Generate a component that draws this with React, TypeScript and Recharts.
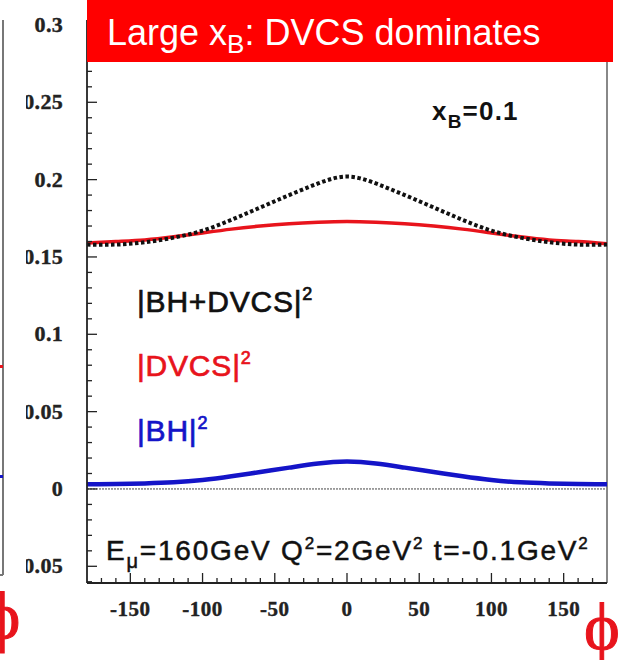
import { Line, LineChart, ReferenceLine, XAxis, YAxis } from "recharts";

// azimuthal angle phi (deg) and the three cross-section curves
const phiValues = [-180, -160, -140, -120, -100, -80, -60, -40, -20, 0, 20, 40, 60, 80, 100, 120, 140, 160, 180];
const bhDvcsValues = [0.158, 0.158, 0.1595, 0.1625, 0.167, 0.174, 0.182, 0.19, 0.1975, 0.202, 0.1975, 0.19, 0.182, 0.174, 0.167, 0.1625, 0.1595, 0.158, 0.158];
const dvcsValues = [0.159, 0.16, 0.161, 0.163, 0.1655, 0.168, 0.17, 0.1715, 0.1725, 0.173, 0.1725, 0.1715, 0.17, 0.168, 0.1655, 0.163, 0.161, 0.16, 0.1585];
const bhValues = [0.003, 0.0032, 0.0036, 0.0043, 0.0058, 0.0082, 0.011, 0.0138, 0.0165, 0.0177, 0.0165, 0.0138, 0.011, 0.0082, 0.0058, 0.0043, 0.0036, 0.0032, 0.003];

const xMajorTicks = [-150, -100, -50, 0, 50, 100, 150];
const xMajorLabels = ["-150", "-100", "-50", "0", "50", "100", "150"];
const yMajorTicks = [-0.05, 0, 0.05, 0.1, 0.15, 0.2, 0.25, 0.3];
const yMajorLabels = ["-0.05", "0", "0.05", "0.1", "0.15", "0.2", "0.25", "0.3"];

// minor ticks every 10 deg / 0.01
const xTicks = Array.from({ length: 35 }, (_, i) => -170 + i * 10);
const yTicks = Array.from({ length: 37 }, (_, i) => (i - 6) / 100);

const data = phiValues.map((phi, i) => ({
  phi,
  total: bhDvcsValues[i],
  dvcs: dvcsValues[i],
  bh: bhValues[i],
}));

const RED = "#e8141c";
const BLUE = "#1414c8";
const SERIF = "'Liberation Serif', 'Times New Roman', serif";
const SANS = "'Liberation Sans', Arial, sans-serif";

function XTick(props: any) {
  const { x, y, payload } = props;
  const idx = xMajorTicks.indexOf(payload.value);
  const major = idx >= 0;
  return (
    <g>
      <line x1={x} x2={x} y1={y} y2={y - (major ? 10 : 5)} stroke="#222" strokeWidth={1.3} />
      {major && (
        <text x={x} y={y + 33} textAnchor="middle" fontFamily={SERIF} fontWeight="bold" fontSize={21} letterSpacing={0.5} fill="#222" stroke="#222" strokeWidth={0.4}>
          {xMajorLabels[idx]}
        </text>
      )}
    </g>
  );
}

function YTick(props: any) {
  const { x, y, payload } = props;
  const idx = yMajorTicks.findIndex((m) => Math.abs(m - payload.value) < 1e-6);
  const major = idx >= 0;
  return (
    <g>
      <line x1={x} x2={x + (major ? 10 : 5)} y1={y} y2={y} stroke="#222" strokeWidth={1.3} />
      {major && (
        <text x={x - 24} y={y + 7} textAnchor="end" fontFamily={SERIF} fontWeight="bold" fontSize={22} letterSpacing={0.3} fill="#222" stroke="#222" strokeWidth={0.4}>
          {yMajorLabels[idx]}
        </text>
      )}
    </g>
  );
}

export default function App() {
  return (
    <div style={{ position: "absolute", left: 0, top: 0, width: 621, height: 660, background: "#fff" }}>
      <LineChart width={621} height={660} data={data} margin={{ top: 20, right: 14, left: 0, bottom: 0 }}>
        <XAxis
          dataKey="phi"
          type="number"
          domain={[-180, 180]}
          allowDataOverflow
          ticks={xTicks}
          interval={0}
          tickSize={0}
          tickMargin={0}
          tick={<XTick />}
          height={77}
          axisLine={{ stroke: "#222", strokeWidth: 1.8 }}
        />
        <YAxis
          type="number"
          domain={[-0.0608, 0.3032]}
          allowDataOverflow
          ticks={yTicks}
          interval={0}
          tickSize={0}
          tickMargin={0}
          tick={<YTick />}
          width={87}
          axisLine={{ stroke: "#222", strokeWidth: 1.8 }}
        />
        <ReferenceLine y={0} stroke="#444" strokeWidth={1} strokeDasharray="2 1" />
        <ReferenceLine x={180} stroke="#888" strokeWidth={2} />
        <Line dataKey="bh" type="natural" stroke={BLUE} strokeWidth={4.5} dot={false} activeDot={false} isAnimationActive={false} />
        <Line dataKey="dvcs" type="natural" stroke={RED} strokeWidth={3.5} dot={false} activeDot={false} isAnimationActive={false} />
        <Line dataKey="total" type="natural" stroke="#111" strokeWidth={4} strokeDasharray="3.5 2.5" dot={false} activeDot={false} isAnimationActive={false} />
      </LineChart>

      <svg width={621} height={660} style={{ position: "absolute", left: 0, top: 0, pointerEvents: "none" }}>
        {/* neighbouring panel remnants */}
        <rect x={4.5} y={0} width={21.5} height={588} fill="#fff" />
        <line x1={3} y1={20} x2={3} y2={575} stroke="#777" strokeWidth={2} />
        <line x1={0} y1={575} x2={3} y2={575} stroke="#777" strokeWidth={2} />
        <rect x={0} y={365} width={3} height={3} fill={RED} />
        <rect x={0} y={475} width={3} height={3} fill={BLUE} />
        <text x={2.5} y={639} textAnchor="middle" fontFamily={SERIF} fontSize={68} fill={RED} stroke={RED} strokeWidth={1}>ϕ</text>

        <rect x={87} y={0} width={526} height={62} fill="#ff0000" />
        <text x={107} y={45} fontFamily={SANS} fontSize={36} fill="#fff">
          Large x<tspan fontSize={26} dy={8}>B</tspan>
          <tspan dy={-8}>: DVCS dominates</tspan>
        </text>

        <text x={432} y={120} fontFamily={SANS} fontWeight="bold" fontSize={26} letterSpacing={1.2} fill="#111">
          x<tspan fontSize={19} dy={8}>B</tspan>
          <tspan dy={-8}>=0.1</tspan>
        </text>

        <text x={137} y={312} fontFamily={SANS} fontSize={30} letterSpacing={0.8} fill="#111" stroke="#111" strokeWidth={0.7}>
          |BH+DVCS|<tspan fontSize={18} dy={-12}>2</tspan>
        </text>
        <text x={137} y={376} fontFamily={SANS} fontSize={30} letterSpacing={0.8} fill={RED} stroke={RED} strokeWidth={0.7}>
          |DVCS|<tspan fontSize={18} dy={-12}>2</tspan>
        </text>
        <text x={137} y={441} fontFamily={SANS} fontSize={30} letterSpacing={0.8} fill={BLUE} stroke={BLUE} strokeWidth={0.7}>
          |BH|<tspan fontSize={18} dy={-12}>2</tspan>
        </text>

        <text x={106} y={560} fontFamily={SANS} fontSize={28} letterSpacing={1.8} fill="#111" stroke="#111" strokeWidth={0.5}>
          E<tspan fontSize={20} dy={8}>μ</tspan>
          <tspan dy={-8}>=160GeV Q</tspan>
          <tspan fontSize={17} dy={-11}>2</tspan>
          <tspan dy={11}>=2GeV</tspan>
          <tspan fontSize={17} dy={-11}>2</tspan>
          <tspan dy={11}> t=-0.1GeV</tspan>
          <tspan fontSize={17} dy={-11}>2</tspan>
        </text>

        <text x={602} y={650} textAnchor="middle" fontFamily={SERIF} fontSize={68} fill={RED} stroke={RED} strokeWidth={1}>ϕ</text>
      </svg>
    </div>
  );
}
